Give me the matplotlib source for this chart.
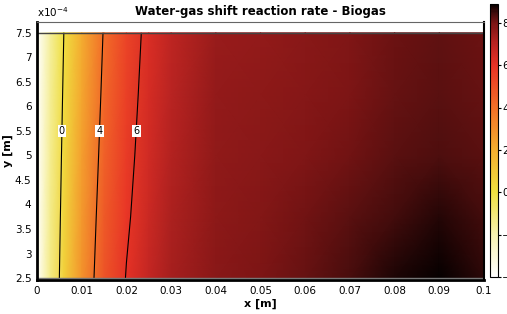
import numpy as np
import matplotlib
matplotlib.use('Agg')
import matplotlib.pyplot as plt
from matplotlib.colors import LinearSegmentedColormap, Normalize
from matplotlib.ticker import FuncFormatter

# grid (x in m, y in m), reaction rate values
x_nodes = [0, 0.003, 0.006, 0.01, 0.015, 0.02, 0.025, 0.03, 0.04, 0.05, 0.06, 0.07, 0.08, 0.09, 0.1]
y_rows = [2.5e-4, 3.75e-4, 5.0e-4, 6.25e-4, 7.5e-4]
rate_y250 = [-4, -1.2, 0.6, 2.9, 4.9, 6.05, 6.8, 7.3, 7.75, 7.95, 8.15, 8.4, 8.7, 8.88, 8.6]
rate_y375 = [-4, -1.3, 0.45, 2.7, 4.7, 5.85, 6.65, 7.2, 7.7, 7.85, 8.05, 8.25, 8.45, 8.65, 8.45]
rate_y500 = [-4, -1.4, 0.3, 2.45, 4.5, 5.7, 6.5, 7.1, 7.65, 7.75, 7.9, 8.05, 8.25, 8.35, 8.25]
rate_y625 = [-4, -1.5, 0.15, 2.2, 4.3, 5.55, 6.4, 7.0, 7.6, 7.7, 7.8, 7.95, 8.15, 8.28, 8.15]
rate_y750 = [-4, -1.6, 0.0, 2.0, 4.1, 5.4, 6.3, 6.9, 7.5, 7.6, 7.75, 7.9, 8.1, 8.2, 8.1]

contour_levels = [0, 4, 6]
label_y = 5.5e-4
cbar_ticks = [-4, -2, 0, 2, 4, 6, 8]
x_ticks = [0, 0.01, 0.02, 0.03, 0.04, 0.05, 0.06, 0.07, 0.08, 0.09, 0.1]
y_ticks = [2.5e-4, 3e-4, 3.5e-4, 4e-4, 4.5e-4, 5e-4, 5.5e-4, 6e-4, 6.5e-4, 7e-4, 7.5e-4]

vmin, vmax = -4, 8.9
cmap_nodes = [(-4, '#ffffff'), (-2, '#f7f2b0'), (0, '#efe040'), (2, '#f4ae30'),
              (4, '#f27028'), (6, '#e83226'), (7, '#bb2422'), (8, '#7c1515'),
              (8.5, '#420c0c'), (8.9, '#050000')]
cmap = LinearSegmentedColormap.from_list(
    'heat', [((v - vmin) / (vmax - vmin), c) for v, c in cmap_nodes])

plt.rcParams['font.family'] = 'DejaVu Sans'
fig = plt.figure(figsize=(5.07, 3.14), dpi=100)
ax = fig.add_axes([0.073, 0.1083, 0.8817, 0.8217])

X, Y = np.meshgrid(x_nodes, y_rows)
Z = np.array([rate_y250, rate_y375, rate_y500, rate_y625, rate_y750])
norm = Normalize(vmin=vmin, vmax=vmax)
mesh = ax.pcolormesh(X, Y, Z, cmap=cmap, norm=norm, shading='gouraud')

cs = ax.contour(X, Y, Z, levels=contour_levels, colors='k', linewidths=0.8)
lab_pos = []
for lev in contour_levels:
    row = Z[2]
    xi = np.interp(lev, row, x_nodes)
    lab_pos.append((xi, label_y))
labels = ax.clabel(cs, fmt='%g', fontsize=7, inline=False, manual=lab_pos)
for t in labels:
    t.set_rotation(0)
    t.set_bbox(dict(facecolor='white', edgecolor='none', pad=1))

# domain outline
ax.plot([x_nodes[0], x_nodes[-1]], [y_rows[-1], y_rows[-1]], color='#444444', lw=1)
ax.plot([x_nodes[0], x_nodes[-1]], [y_rows[0], y_rows[0]], color='#777777', lw=1)

ax.set_xlim(0, 0.1)
ax.set_ylim(2.46e-4, 7.72e-4)
ax.set_xticks(x_ticks)
ax.set_yticks(y_ticks)
ax.xaxis.set_major_formatter(FuncFormatter(lambda v, p: '%g' % round(v, 3)))
ax.yaxis.set_major_formatter(FuncFormatter(lambda v, p: '%g' % round(v * 1e4, 2)))
ax.tick_params(length=0, labelsize=7.5, pad=4)
ax.text(0, 1.012, 'x10$^{-4}$', transform=ax.transAxes, fontsize=7.5, ha='left', va='bottom')

for side in ['left', 'bottom']:
    ax.spines[side].set_linewidth(2)
    ax.spines[side].set_color('black')
ax.spines['top'].set_color('#666666')
ax.spines['right'].set_linewidth(1.5)

ax.set_title('Water-gas shift reaction rate - Biogas', fontsize=8.5, fontweight='bold', pad=5)
ax.set_xlabel('x [m]', fontsize=8, fontweight='bold', labelpad=2)
ax.set_ylabel('y [m]', fontsize=8, fontweight='bold', labelpad=1)

cax = fig.add_axes([0.9665, 0.118, 0.0158, 0.869])
cb = fig.colorbar(mesh, cax=cax, ticks=cbar_ticks)
cb.ax.tick_params(labelsize=7.5, length=2, pad=1)
cb.outline.set_linewidth(0.8)

fig.savefig('out.png', dpi=100)
